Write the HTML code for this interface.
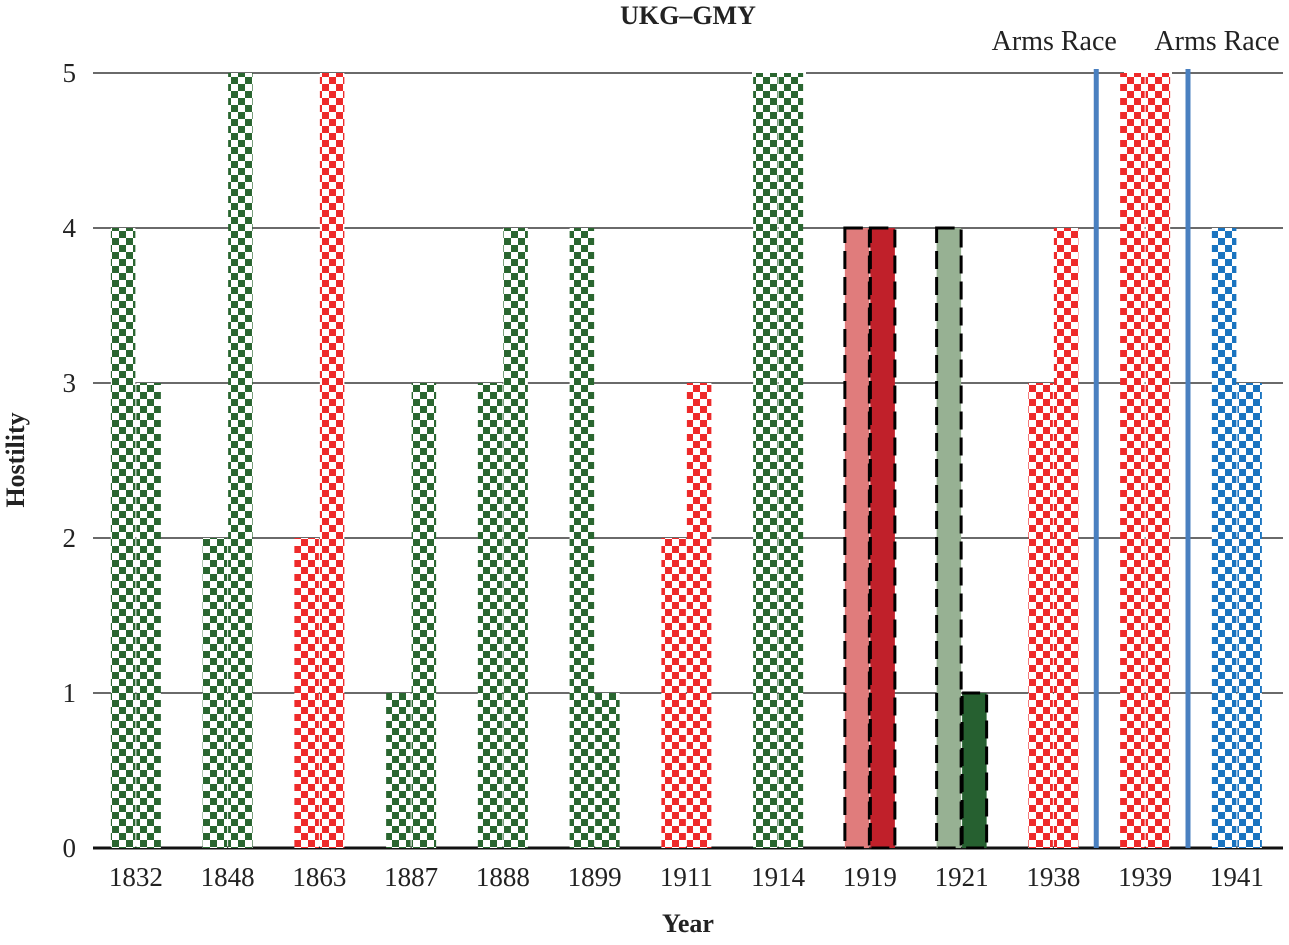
<!DOCTYPE html>
<html><head><meta charset="utf-8"><style>
html,body{margin:0;padding:0;background:#fff;}
svg text{font-family:"Liberation Serif",serif;fill:#222;}
</style></head><body>
<svg id="chart" width="1289" height="940" xmlns="http://www.w3.org/2000/svg">
<defs>
<pattern id="chk-green" width="14" height="14" patternUnits="userSpaceOnUse"><rect width="14" height="14" fill="#fff"/><rect width="7" height="7" fill="#2a6630"/><rect x="7" y="7" width="7" height="7" fill="#2a6630"/></pattern>
<pattern id="chk-red" width="14" height="14" patternUnits="userSpaceOnUse"><rect width="14" height="14" fill="#fff"/><rect width="7" height="7" fill="#ee2a2a"/><rect x="7" y="7" width="7" height="7" fill="#ee2a2a"/></pattern>
<pattern id="chk-blue" width="14" height="14" patternUnits="userSpaceOnUse"><rect width="14" height="14" fill="#fff"/><rect width="7" height="7" fill="#1a74c0"/><rect x="7" y="7" width="7" height="7" fill="#1a74c0"/></pattern>
</defs>
<text x="688" y="24" text-anchor="middle" font-size="26" font-weight="bold">UKG–GMY</text>
<text x="688" y="932" text-anchor="middle" font-size="26" font-weight="bold">Year</text>
<text transform="translate(24,460) rotate(-90)" text-anchor="middle" font-size="26" font-weight="bold">Hostility</text>
<g id="grid"></g><g id="bars"></g><g id="overlay"></g>
</svg>
<script>
const years=["1832","1848","1863","1887","1888","1899","1911","1914","1919","1921","1938","1939","1941"];
const bar1=[4,2,2,1,3,4,2,5,4,4,3,5,4];
const bar2=[3,5,5,3,4,1,3,5,4,1,4,5,3];
const fill1=["chk-green","chk-green","chk-red","chk-green","chk-green","chk-green","chk-red","chk-green","solid-lightred","solid-lightgreen","chk-red","chk-red","chk-blue"];
const fill2=["chk-green","chk-green","chk-red","chk-green","chk-green","chk-green","chk-red","chk-green","solid-darkred","solid-darkgreen","chk-red","chk-red","chk-blue"];
const yTicks=[0,1,2,3,4,5];
const armsRaceAfter=["1938","1939"];
const NS="http://www.w3.org/2000/svg";
const X0=90,STEP=91.75,Y0=848,UNIT=155,BW=24.5;
const labelOffsets=[-42,29];
const xC=i=>X0+STEP*(i+0.5);
const yS=v=>Y0-v*UNIT;
const solid={"solid-lightred":"#e07c7c","solid-darkred":"#c0202a","solid-lightgreen":"#97b193","solid-darkgreen":"#266030"};
function mk(tag,attrs,parent){const e=document.createElementNS(NS,tag);for(const k in attrs)e.setAttribute(k,attrs[k]);parent.appendChild(e);return e;}
const grid=document.getElementById('grid'),bars=document.getElementById('bars'),ov=document.getElementById('overlay');
yTicks.forEach(t=>{
  const l=mk('line',{x1:93,x2:1283,y1:yS(t),y2:yS(t),stroke:'#111','stroke-width':t===0?3:1.3},grid);
  
  
  const tx=mk('text',{x:76,y:yS(t)+9,'text-anchor':'end','font-size':27},grid);tx.textContent=t;
  
  
});
[[752,806],[1124,1172]].forEach(g=>{mk('rect',{x:g[0],y:yS(5)-3,width:g[1]-g[0],height:6,fill:'#fff'},grid);});
function drawBar(i,v,f,x,name){
  const y=yS(v),h=v*UNIT;
  let r;
  if(f.startsWith('chk')){r=mk('rect',{x:x,y:y,width:BW,height:h,fill:'url(#'+f+')'},bars);}
  else{r=mk('rect',{x:x,y:y,width:BW,height:h,fill:solid[f],stroke:'#000','stroke-width':3,'stroke-dasharray':'18 8'},bars);}
  
  
}
years.forEach((yr,i)=>{
  const c=xC(i);
  drawBar(i,bar1[i],fill1[i],c-BW-0.5,'bar-'+yr+'-a');
  drawBar(i,bar2[i],fill2[i],c+0.5,'bar-'+yr+'-b');
  const t=mk('text',{x:c,y:886,'text-anchor':'middle','font-size':27},ov);t.textContent=yr;
  
  
});
armsRaceAfter.forEach((yr,k)=>{
  const i=years.indexOf(yr);const x=X0+STEP*(i+1)-3;
  const l=mk('line',{x1:x,x2:x,y1:yS(5)-4,y2:Y0,stroke:'#4a80c0','stroke-width':5},ov);
  
  
  const t=mk('text',{x:x+labelOffsets[k],y:50,'text-anchor':'middle','font-size':28},ov);t.textContent='Arms Race';
  
  
});
</script>
</body></html>
